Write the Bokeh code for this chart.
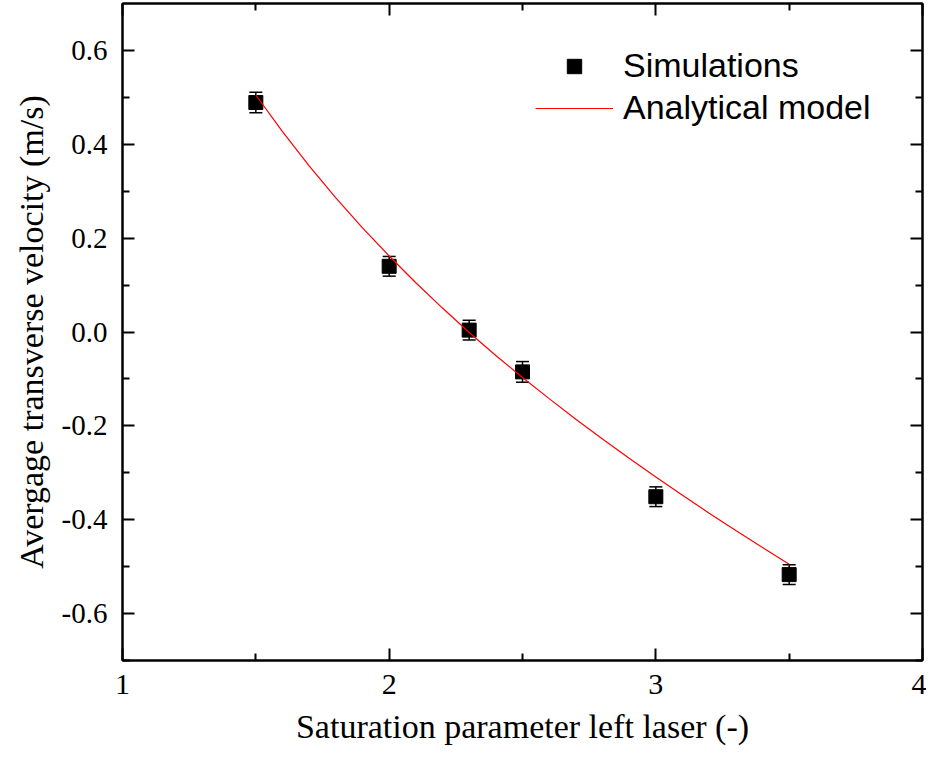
from bokeh.plotting import figure
from bokeh.models import (ColumnDataSource, Whisker, TeeHead, FixedTicker,
                          LinearAxis, Legend, LegendItem, Range1d,
                          CustomJSTickFormatter)
from bokeh.embed import file_html
from bokeh.resources import INLINE

# ---- data ----
sat = [1.5, 2.0, 2.3, 2.5, 3.0, 3.5]
vel = [0.489, 0.140, 0.004, -0.085, -0.351, -0.517]
err = [0.022, 0.021, 0.021, 0.022, 0.021, 0.021]

model_sat = [1.5, 1.6, 1.7, 1.8, 1.9, 2.0, 2.1, 2.2, 2.3, 2.4, 2.5,
             2.6, 2.7, 2.8, 2.9, 3.0, 3.1, 3.2, 3.3, 3.4, 3.5]
model_vel = [0.505, 0.427, 0.354, 0.286, 0.222, 0.162, 0.105, 0.051, -0.001,
             -0.050, -0.097, -0.142, -0.186, -0.228, -0.269, -0.309, -0.348,
             -0.386, -0.423, -0.459, -0.495]

x_ticks = [1, 2, 3, 4]
x_tick_labels = ["1", "2", "3", "4"]
x_minor = [1.5, 2.5, 3.5]
y_ticks = [-0.6, -0.4, -0.2, 0.0, 0.2, 0.4, 0.6]
y_tick_labels = ["-0.6", "-0.4", "-0.2", "0.0", "0.2", "0.4", "0.6"]
y_minor = [-0.7, -0.5, -0.3, -0.1, 0.1, 0.3, 0.5]

x_label = "Saturation parameter left laser (-)"
y_label = "Avergage transverse velocity (m/s)"
series_names = ["Simulations", "Analytical model"]

SERIF = "Liberation Serif"
SANS = "Liberation Sans"

p = figure(width=926, height=764, output_backend="svg", toolbar_location=None,
           x_range=Range1d(1, 4), y_range=Range1d(-0.7, 0.7),
           x_axis_location=None, y_axis_location=None,
           min_border_left=122, min_border_right=4,
           min_border_top=3, min_border_bottom=104)
p.grid.visible = False
p.outline_line_color = "black"
p.outline_line_width = 2
p.background_fill_color = "white"
p.border_fill_color = "white"

xt = FixedTicker(ticks=x_ticks, minor_ticks=x_minor)
yt = FixedTicker(ticks=y_ticks, minor_ticks=y_minor)

FMT_CODE = """
const i = tvals.findIndex(t => Math.abs(t - tick) < 1e-9);
return i >= 0 ? tlabs[i] : '';
"""


def style(ax, labels=True):
    ax.axis_line_color = "black"
    ax.axis_line_width = 2
    ax.major_tick_line_color = "black"
    ax.minor_tick_line_color = "black"
    ax.major_tick_line_width = 2
    ax.minor_tick_line_width = 2
    ax.major_tick_in = 12
    ax.major_tick_out = 0
    ax.minor_tick_in = 7
    ax.minor_tick_out = 0
    ax.major_label_text_color = "black"
    ax.axis_label_text_color = "black"
    if not labels:
        ax.major_label_text_alpha = 0
        ax.major_label_text_font_size = "1px"
        ax.major_label_standoff = 0


bottom = LinearAxis(ticker=xt, axis_label=x_label,
                    formatter=CustomJSTickFormatter(
                        args=dict(tvals=x_ticks, tlabs=x_tick_labels), code=FMT_CODE),
                    major_label_text_font=SERIF,
                    major_label_text_font_size="30px",
                    major_label_text_font_style="normal")
style(bottom)
bottom.major_label_standoff = 14
bottom.axis_label_text_font = SERIF
bottom.axis_label_text_font_size = "34px"
bottom.axis_label_text_font_style = "normal"
bottom.axis_label_standoff = 11
p.add_layout(bottom, "below")

left = LinearAxis(ticker=yt, axis_label=y_label,
                  formatter=CustomJSTickFormatter(
                      args=dict(tvals=y_ticks, tlabs=y_tick_labels), code=FMT_CODE),
                  major_label_text_font=SERIF,
                  major_label_text_font_size="29px",
                  major_label_text_font_style="normal")
style(left)
left.major_label_standoff = 15
left.axis_label_text_font = SERIF
left.axis_label_text_font_size = "34px"
left.axis_label_text_font_style = "normal"
left.axis_label_standoff = 9
p.add_layout(left, "left")

top = LinearAxis(ticker=xt)
style(top, labels=False)
p.add_layout(top, "above")
right = LinearAxis(ticker=yt)
style(right, labels=False)
p.add_layout(right, "right")

src = ColumnDataSource(dict(
    x=sat, y=vel,
    lower=[v - e for v, e in zip(vel, err)],
    upper=[v + e for v, e in zip(vel, err)],
))

whisk = Whisker(base="x", upper="upper", lower="lower", source=src,
                line_color="black", line_width=1.5,
                upper_head=TeeHead(size=13, line_color="black", line_width=1.5),
                lower_head=TeeHead(size=13, line_color="black", line_width=1.5))
p.add_layout(whisk)

sim_r = p.scatter("x", "y", source=src, marker="square", size=14,
                  fill_color="black", line_color="black")
line_r = p.line(model_sat, model_vel, line_color="red", line_width=1.2)

legend = Legend(items=[LegendItem(label=series_names[0], renderers=[sim_r]),
                       LegendItem(label=series_names[1], renderers=[line_r])],
                location=(413, 533), padding=0, margin=0, spacing=3,
                glyph_width=78, glyph_height=36, label_standoff=10,
                label_text_font=SANS, label_text_font_size="34px",
                label_text_color="black",
                background_fill_alpha=0, border_line_alpha=0)
p.add_layout(legend, "center")

open("out.html", "w").write(file_html(p, INLINE))
